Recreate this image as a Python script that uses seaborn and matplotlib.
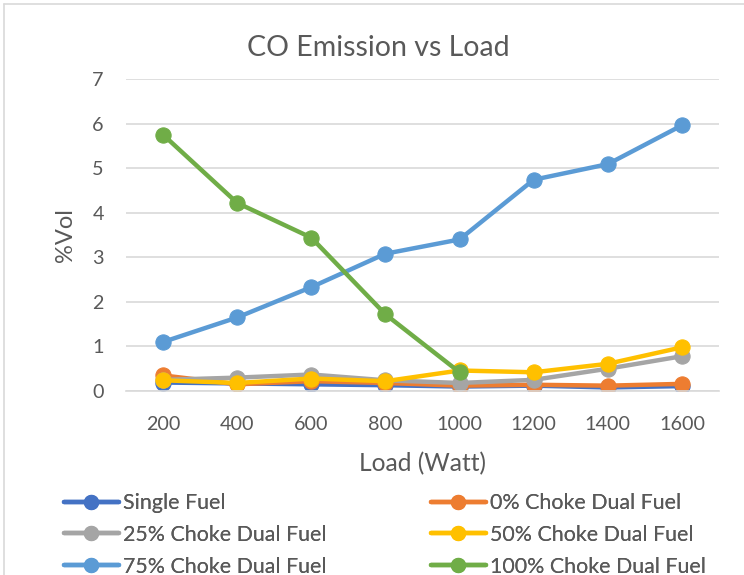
import matplotlib
matplotlib.use("Agg")
import matplotlib.pyplot as plt
import seaborn as sns
import pandas as pd
import numpy as np
from matplotlib.lines import Line2D

loads = [200, 400, 600, 800, 1000, 1200, 1400, 1600]
single_fuel = [0.19, 0.17, 0.15, 0.13, 0.10, 0.12, 0.08, 0.11]
choke_0 = [0.35, 0.15, 0.22, 0.18, 0.12, 0.14, 0.12, 0.16]
choke_25 = [0.25, 0.30, 0.37, 0.24, 0.18, 0.25, 0.50, 0.78]
choke_50 = [0.24, 0.18, 0.28, 0.22, 0.46, 0.42, 0.61, 0.98]
choke_75 = [1.10, 1.65, 2.33, 3.08, 3.40, 4.74, 5.09, 5.96]
choke_100 = [5.75, 4.22, 3.44, 1.72, 0.42, np.nan, np.nan, np.nan]

series_names = ["Single Fuel", "0% Choke Dual Fuel", "25% Choke Dual Fuel",
                "50% Choke Dual Fuel", "75% Choke Dual Fuel", "100% Choke Dual Fuel"]
series_values = [single_fuel, choke_0, choke_25, choke_50, choke_75, choke_100]
colors = ["#4472C4", "#ED7D31", "#A5A5A5", "#FFC000", "#5B9BD5", "#70AD47"]

rows = []
for name, vals in zip(series_names, series_values):
    for x, v in zip(loads, vals):
        rows.append({"Load": x, "Value": v, "Series": name})
df = pd.DataFrame(rows)

sns.set_style("white")
plt.rcParams["font.family"] = ["Lato", "DejaVu Sans"]
text_color = "#595959"

fig = plt.figure(figsize=(7.44, 5.75), dpi=100)
ax = fig.add_axes([126/744, 1 - 391/575, (719 - 126)/744, (391 - 79)/575])

for name, col in zip(series_names, colors):
    sub = df[df["Series"] == name].dropna()
    sns.lineplot(data=sub, x="Load", y="Value", color=col, ax=ax,
                 linewidth=3.2, marker="o", markersize=11,
                 markeredgecolor=col, label=name, legend=False)

ax.set_xlim(100, 1700)
ax.set_ylim(0, 7)
ax.set_xticks(loads)
ax.set_xticklabels([str(l) for l in loads])
ax.set_yticks(range(0, 8))
ax.grid(axis="y", color="#D9D9D9", linewidth=1.2)
ax.set_axisbelow(True)
for s in ["top", "right", "left"]:
    ax.spines[s].set_visible(False)
ax.spines["bottom"].set_color("#D9D9D9")
ax.spines["bottom"].set_linewidth(1.2)
ax.tick_params(axis="x", length=0, labelsize=14.2, colors=text_color, pad=18)
ax.tick_params(axis="y", length=0, labelsize=14.2, colors=text_color, pad=16)
ax.set_xlabel("Load (Watt)", fontsize=17.7, color=text_color, labelpad=14)
ax.set_ylabel("%Vol", fontsize=17, color=text_color, labelpad=12)
fig.text(378/744, 1 - 48/575, "CO Emission vs Load", ha="center", va="center",
         fontsize=20.5, color=text_color)

handles = [Line2D([0], [0], color=c, linewidth=3.2, marker="o", markersize=10,
                  markeredgecolor=c) for c in colors]
for col_idx, x0 in enumerate([64, 431]):
    idx = [col_idx, col_idx + 2, col_idx + 4]
    leg = fig.legend([handles[i] for i in idx], [series_names[i] for i in idx],
                     ncol=1, loc="upper left",
                     bbox_to_anchor=(x0/744, 1 - 493/575), frameon=False,
                     fontsize=15.4, handlelength=2.57, handletextpad=0.2,
                     labelspacing=0.55, borderaxespad=0, borderpad=0)
    for t in leg.get_texts():
        t.set_color(text_color)
    fig.add_artist(leg)

fig.add_artist(Line2D([4/744, 4/744], [0, 1 - 4/575], transform=fig.transFigure,
                      color="#D9D9D9", linewidth=1.2))
fig.add_artist(Line2D([4/744, 1], [1 - 4/575, 1 - 4/575], transform=fig.transFigure,
                      color="#D9D9D9", linewidth=1.2))

fig.savefig("out.png", dpi=100, facecolor="white")
